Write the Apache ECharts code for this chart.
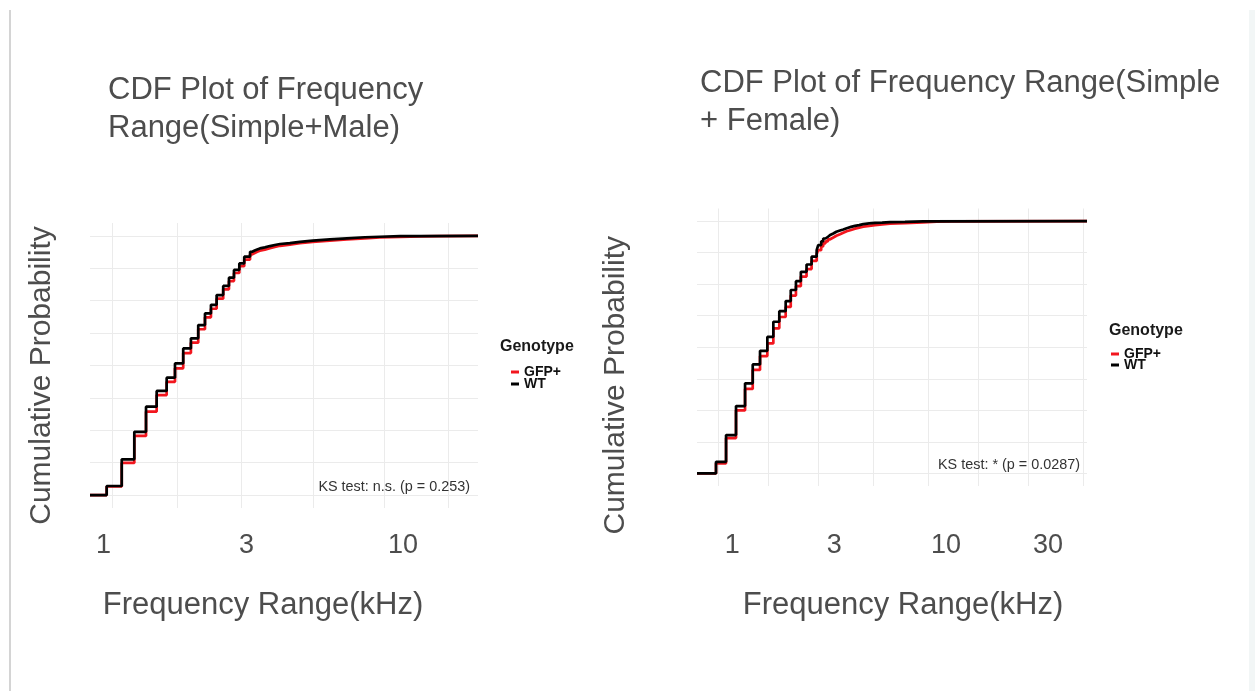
<!DOCTYPE html>
<html><head><meta charset="utf-8">
<script src="https://cdn.jsdelivr.net/npm/echarts@6/dist/echarts.min.js"></script>
<style>
html,body{margin:0;padding:0;background:#fff;}
#edge{position:absolute;left:9px;top:10px;width:2px;height:681px;background:#d4d4d4;}
#strip{position:absolute;left:1249px;top:10px;width:6px;height:681px;background:#f2f6f6;}
#chart{position:absolute;left:0;top:0;width:1255px;height:691px;}
</style></head><body>
<div id="edge"></div><div id="strip"></div><div id="chart"></div>
<script>
// ---- data ----
const genotypes = ['GFP+', 'WT'];

// Male (left panel) ECDF steps: frequency range (kHz) and cumulative probability
const maleWtX  = [0.956,1.086,1.208,1.334,1.46,1.589,1.705,1.828,1.951,2.076,2.198,2.312,2.426,2.565,2.693,2.81,2.94,3.065,3.22,3.28,3.35,3.42,3.5,3.65,3.81,3.97,4.15,4.51,4.91,5.48,6.33,7.31,8.51,9.67,11.5,13.6];
const maleWtY  = [0.035,0.138,0.244,0.341,0.402,0.453,0.508,0.566,0.605,0.656,0.701,0.734,0.772,0.807,0.839,0.869,0.894,0.920,0.939,0.944,0.948,0.952,0.956,0.961,0.965,0.969,0.972,0.977,0.982,0.987,0.991,0.995,0.997,0.999,0.9995,1.0];
const maleGfpX = [0.956,1.086,1.208,1.334,1.46,1.589,1.705,1.828,1.951,2.076,2.198,2.312,2.426,2.565,2.693,2.81,2.94,3.065,3.22,3.28,3.35,3.42,3.5,3.65,3.81,3.97,4.15,4.51,4.91,5.48,6.33,7.31,8.51,9.67,11.5,13.6,16];
const maleGfpY = [0.033,0.124,0.228,0.322,0.386,0.437,0.489,0.548,0.588,0.640,0.686,0.719,0.758,0.794,0.826,0.857,0.883,0.909,0.929,0.934,0.939,0.943,0.947,0.953,0.958,0.962,0.966,0.972,0.977,0.982,0.987,0.991,0.994,0.996,0.998,0.999,1.0];

// Female (right panel)
const femWtX  = [0.978,1.092,1.218,1.345,1.463,1.585,1.717,1.834,1.958,2.10,2.22,2.35,2.48,2.64,2.79,2.95,3.0,3.1,3.17,3.25,3.34,3.42,3.54,3.66,3.81,3.95,4.1,4.3,4.49,4.7,4.92,5.25,5.59,6.05,6.59,7.77,9.47];
const femWtY  = [0.046,0.152,0.267,0.357,0.432,0.486,0.541,0.601,0.643,0.683,0.727,0.762,0.799,0.828,0.859,0.885,0.905,0.920,0.931,0.938,0.945,0.951,0.958,0.963,0.967,0.972,0.977,0.981,0.984,0.988,0.991,0.993,0.994,0.996,0.997,0.999,1.0];
const femGfpX = [0.978,1.092,1.218,1.345,1.463,1.585,1.717,1.834,1.958,2.10,2.22,2.35,2.48,2.64,2.79,2.95,3.0,3.1,3.17,3.25,3.34,3.42,3.54,3.66,3.81,3.95,4.1,4.3,4.49,4.7,4.92,5.25,5.59,6.05,6.59,7.77,9.47,11,13];
const femGfpY = [0.040,0.140,0.250,0.335,0.410,0.465,0.515,0.575,0.620,0.660,0.705,0.742,0.780,0.810,0.842,0.870,0.885,0.900,0.912,0.920,0.928,0.935,0.942,0.948,0.954,0.960,0.965,0.970,0.974,0.978,0.981,0.984,0.987,0.990,0.992,0.995,0.998,0.999,1.0];

// ticks
const maleXLabels = [1, 3, 10];
const femXLabels  = [1, 3, 10, 30];
const maleXGrid = [1, 1.7321, 3, 5.4772, 10, 17.3205];
const femXGrid  = [1, 1.7321, 3, 5.4772, 10, 17.3205, 30, 54.772];
const yGrid = [0, 0.125, 0.25, 0.375, 0.5, 0.625, 0.75, 0.875, 1];

const titles = ['CDF Plot of Frequency\nRange(Simple+Male)', 'CDF Plot of Frequency Range(Simple\n+ Female)'];
const ksTexts = ['KS test: n.s. (p = 0.253)', 'KS test: * (p = 0.0287)'];
const axisNames = {x: 'Frequency Range(kHz)', y: 'Cumulative Probability', legend: 'Genotype'};

// ---- chart ----
const FONT = '"Liberation Sans", Arial, sans-serif';
const GRAY = '#4d4d4d';
const GRID_COLOR = '#ebebeb';
const xExt = [[0.83, 22.2], [0.794, 57.2]];
// label rows of the reference sit slightly off the panel grid
const labelExt = [[0.902, 17.78], [0.6844, 45.7]];

function ecdf(xs, ys, ext) {
  const d = [[ext[0], 0]];
  for (let i = 0; i < xs.length; i++) d.push([xs[i], ys[i]]);
  d.push([ext[1], 1]);
  return d;
}

function xAxis(idx, grid, ext, nameGap, namePad) {
  return {
    gridIndex: idx, type: 'log', logBase: 10, min: ext[0], max: ext[1], position: 'bottom',
    axisLine: {show: false, onZero: false},
    axisTick: {show: false, customValues: grid},
    splitLine: {show: true, lineStyle: {color: GRID_COLOR, width: 1}},
    axisLabel: {show: false},
    name: axisNames.x, nameLocation: 'middle', nameGap: nameGap,
    nameTextStyle: {fontSize: 31, color: GRAY, fontFamily: FONT, padding: namePad}
  };
}
function labelAxis(idx, labels, ext, margin) {
  return {
    gridIndex: idx, type: 'log', logBase: 10, min: ext[0], max: ext[1], position: 'bottom',
    axisLine: {show: false, onZero: false},
    axisTick: {show: false, customValues: labels},
    splitLine: {show: false},
    axisLabel: {customValues: labels, fontSize: 27, color: GRAY, fontFamily: FONT, margin: margin,
      formatter: v => String(Math.round(v))}
  };
}
function yAxis(idx, nameGap, namePad) {
  return {
    gridIndex: idx, type: 'value', min: -0.05, max: 1.05,
    axisLine: {show: false, onZero: false},
    axisTick: {show: false, customValues: yGrid},
    axisLabel: {show: false, customValues: yGrid},
    splitLine: {show: true, lineStyle: {color: GRID_COLOR, width: 1}},
    name: axisNames.y, nameLocation: 'middle', nameGap: nameGap, nameRotate: 90,
    nameTextStyle: {fontSize: 30, color: GRAY, fontFamily: FONT, padding: namePad}
  };
}
function line(name, color, xi, data, z) {
  return {
    type: 'line', name: name, xAxisIndex: xi, yAxisIndex: xi, step: 'end',
    showSymbol: false, symbol: 'none', data: data, z: z, animation: false,
    lineStyle: {color: color, width: 2.7}, itemStyle: {color: color},
    emphasis: {disabled: true}
  };
}
const RED = '#f2161e', BLACK = '#000000';
const titleStyle = {fontSize: 31, fontWeight: 'normal', color: GRAY, fontFamily: FONT, lineHeight: 38};
const ksStyle = {fontSize: 14.4, fontWeight: 'normal', color: '#333', fontFamily: FONT, lineHeight: 14};
const legTitleStyle = {fontSize: 16, fontWeight: 'bold', color: '#1a1a1a', fontFamily: FONT, lineHeight: 16};

const option = {
  animation: false,
  backgroundColor: 'transparent',
  title: [
    {text: titles[0], left: 108, top: 71, padding: 0, textStyle: titleStyle},
    {text: titles[1], left: 700, top: 64, padding: 0, textStyle: titleStyle},
    {text: ksTexts[0], right: 785, top: 480, padding: 0, textStyle: ksStyle},
    {text: ksTexts[1], right: 175, top: 458, padding: 0, textStyle: ksStyle},
    {text: axisNames.legend, left: 500, top: 339, padding: 0, textStyle: legTitleStyle},
    {text: axisNames.legend, left: 1109, top: 323, padding: 0, textStyle: legTitleStyle}
  ],
  legend: [
    {data: genotypes, left: 511, top: 365, orient: 'vertical', padding: 0, itemGap: -2,
     icon: 'rect', itemWidth: 8, itemHeight: 3, itemTextGap: 3, selectedMode: false,
     textStyle: {fontSize: 14, fontWeight: 'bold', color: '#111', fontFamily: FONT, lineHeight: 11}},
    {data: genotypes, left: 1111, top: 347, orient: 'vertical', padding: 0, itemGap: -3,
     icon: 'rect', itemWidth: 8, itemHeight: 3, itemTextGap: 9, selectedMode: false,
     textStyle: {fontSize: 14, fontWeight: 'bold', color: '#111', fontFamily: FONT, lineHeight: 10}}
  ],
  grid: [
    {left: 90, top: 223, width: 388, height: 285, containLabel: false},
    {left: 697, top: 208.5, width: 390, height: 277.5, containLabel: false}
  ],
  xAxis: [
    xAxis(0, maleXGrid, xExt[0], 82, [0, 42, 0, 0]),
    xAxis(1, femXGrid, xExt[1], 104, [0, 0, 0, 22]),
    labelAxis(0, maleXLabels, labelExt[0], 24),
    labelAxis(1, femXLabels, labelExt[1], 46)
  ],
  yAxis: [
    yAxis(0, 33, [0, 20, 0, 0]),
    yAxis(1, 66, [0, 76, 0, 0])
  ],
  series: [
    line('GFP+', RED, 0, ecdf(maleGfpX, maleGfpY, xExt[0]), 2),
    line('WT', BLACK, 0, ecdf(maleWtX, maleWtY, xExt[0]), 3),
    line('GFP+', RED, 1, ecdf(femGfpX, femGfpY, xExt[1]), 2),
    line('WT', BLACK, 1, ecdf(femWtX, femWtY, xExt[1]), 3)
  ]
};
const chart = echarts.init(document.getElementById('chart'), null, {renderer: 'canvas'});
chart.setOption(option);
</script>
</body></html>
